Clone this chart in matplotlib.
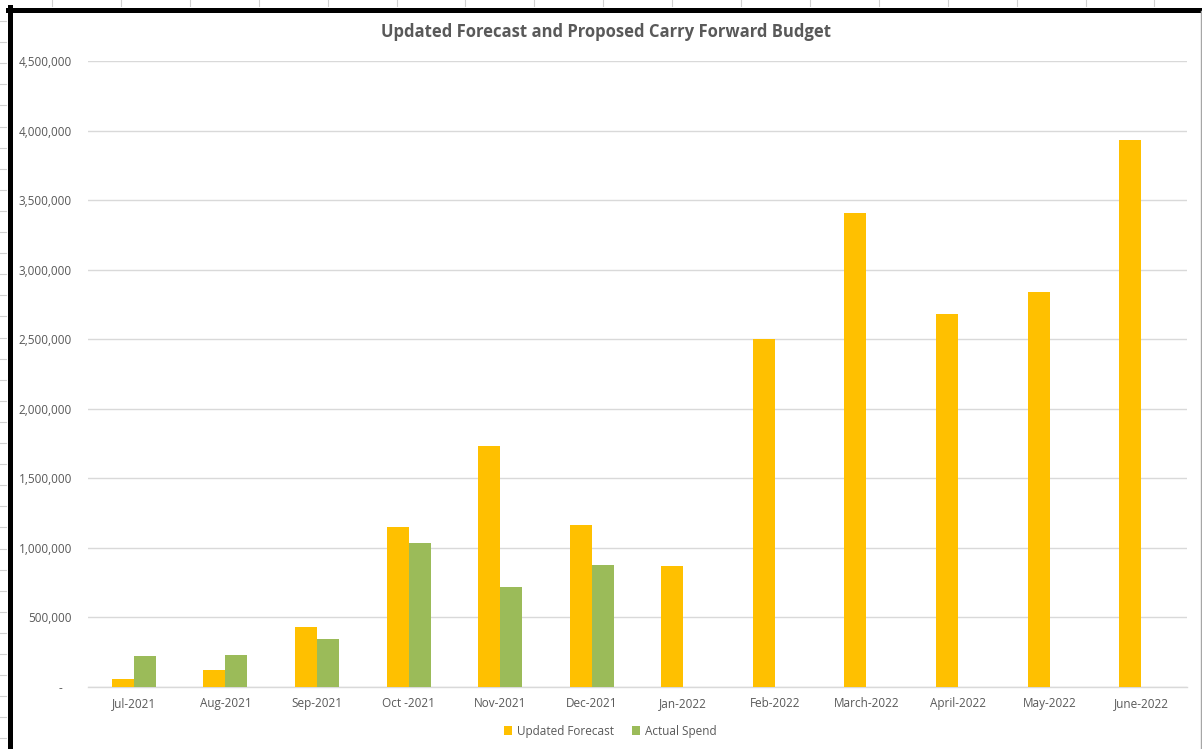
import matplotlib
import numpy as np

matplotlib.use("Agg")
import matplotlib.pyplot as plt  # noqa: E402
from matplotlib.lines import Line2D  # noqa: E402
from matplotlib.ticker import FuncFormatter  # noqa: E402

months = [
    "Jul-2021", "Aug-2021", "Sep-2021", "Oct -2021", "Nov-2021", "Dec-2021",
    "Jan-2022", "Feb-2022", "March-2022", "April-2022", "May-2022", "June-2022",
]
forecast = [58000, 122000, 431000, 1150000, 1732000, 1164000,
            870000, 2501000, 3407000, 2681000, 2839000, 3932000]
actual = [223000, 230000, 345000, 1035000, 719000, 877000,
          None, None, None, None, None, None]

ORANGE = "#FFC000"
GREEN = "#9BBB59"
GREY_TXT = "#595959"
GRID = "#D9D9D9"

plt.rcParams["font.family"] = ["Open Sans", "DejaVu Sans"]

W, H = 1202, 749
fig = plt.figure(figsize=(W / 100, H / 100), dpi=100)
ax = fig.add_axes([88 / W, 1 - 687 / H, (1187 - 88) / W, (687 - 61) / H])

x = np.arange(len(months))
bw = 0.24
ax.bar(x - bw / 2, forecast, width=bw, color=ORANGE, label="Updated Forecast", zorder=3)
act = [v if v is not None else 0 for v in actual]
ax.bar(x + bw / 2, act, width=bw, color=GREEN, label="Actual Spend", zorder=3)

ax.set_xlim(-0.5, len(months) - 0.5)
ax.set_ylim(0, 4500000)
ax.set_yticks(np.arange(0, 4500001, 500000))
ax.yaxis.set_major_formatter(FuncFormatter(lambda v, _: "-   " if v == 0 else f"{int(v):,}"))
ax.set_xticks(x)
ax.set_xticklabels(months)
ax.tick_params(axis="both", length=0, labelsize=8.5, colors=GREY_TXT)
ax.tick_params(axis="y", pad=11.5)
ax.tick_params(axis="x", pad=7.5)
ax.grid(axis="y", color=GRID, lw=1, zorder=0)
for s in ["top", "right", "left"]:
    ax.spines[s].set_visible(False)
ax.spines["bottom"].set_color(GRID)
ax.spines["bottom"].set_linewidth(1)

fig.text(606 / W, 1 - 32 / H, "Updated Forecast and Proposed Carry Forward Budget",
         ha="center", va="center", fontsize=12, fontweight="bold", color=GREY_TXT)

fig.legend(loc="center", bbox_to_anchor=(610 / W, 1 - 731 / H), ncol=2, frameon=False,
           fontsize=8.5, handlelength=0.7, handleheight=0.7, handletextpad=0.4,
           columnspacing=1.5, labelcolor=GREY_TXT)

# spreadsheet cell lines around the chart object
for yy in np.arange(21, H, 21.1):
    fig.add_artist(Line2D([0, 6 / W], [1 - yy / H] * 2, color="#D0D0D0", lw=0.8))
for xx in np.arange(52, W, 68.9):
    fig.add_artist(Line2D([xx / W] * 2, [1, 1 - 6 / H], color="#D0D0D0", lw=0.8))

# chart frame: heavy black on top/left, thin grey on the right
fig.add_artist(Line2D([9.5 / W, 9.5 / W], [0, 1 - 7 / H], color="black", lw=3.6))
fig.add_artist(Line2D([7.5 / W, 1], [1 - 9.5 / H] * 2, color="black", lw=3.6))
fig.add_artist(Line2D([1200.5 / W] * 2, [0, 1 - 11 / H], color="#A6A6A6", lw=1))

fig.savefig("out.png", dpi=100)
